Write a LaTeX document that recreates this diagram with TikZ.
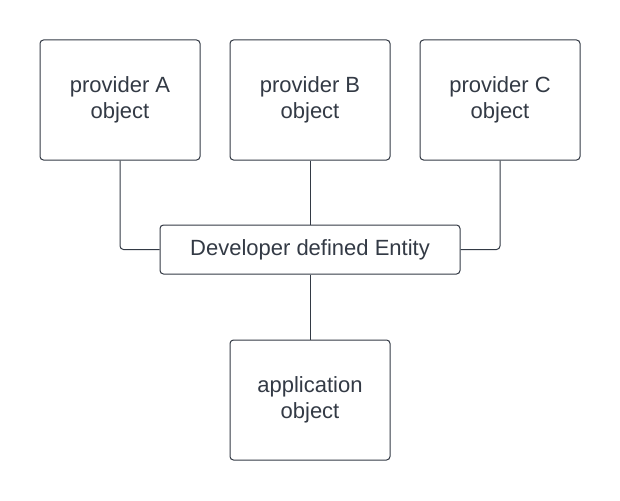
\documentclass[tikz,border=0pt]{standalone}
\usepackage{fontspec}
\setmainfont{Liberation Sans}
\definecolor{ink}{HTML}{333A45}
\begin{document}
\begin{tikzpicture}[x=1pt,y=-1pt,
  box/.style={draw=ink, line width=1pt, rounded corners=3.5pt, fill=white,
    minimum width=160pt, minimum height=120pt, inner sep=0pt, align=center,
    text=ink, font=\fontsize{22}{26}\selectfont},
  wide/.style={box, minimum width=300pt, minimum height=49pt},
  link/.style={draw=ink, line width=1pt, rounded corners=3.5pt}]
\useasboundingbox (0,0) rectangle (620,500);
\node[box] (A) at (120,100) {provider A\\object};
\node[box] (B) at (310,100) {provider B\\object};
\node[box] (C) at (500,100) {provider C\\object};
\node[wide] (E) at (310,249.5) {Developer defined Entity};
\node[box] (P) at (310,400) {application\\object};
\draw[link] (A.south) |- (E.west);
\draw[link] (C.south) |- (E.east);
\draw[link] (B.south) -- (E.north);
\draw[link] (E.south) -- (P.north);
\end{tikzpicture}
\end{document}
